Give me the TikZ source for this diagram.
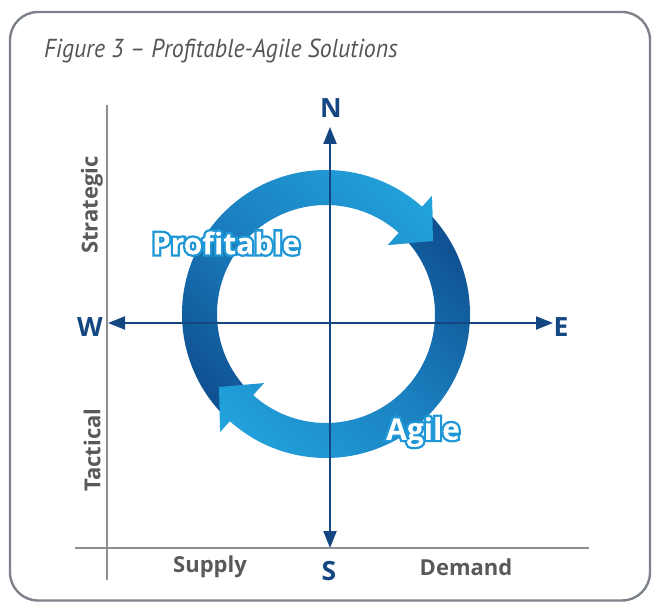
\documentclass[tikz,border=0pt]{standalone}
\usepackage{fontspec}
\setmainfont{Open Sans}
\newfontfamily\captionfont{PT Sans}
\usetikzlibrary{arrows.meta,calc}

\definecolor{ringdark}{RGB}{13,74,139}
\definecolor{ringmid}{RGB}{27,128,192}
\definecolor{ringlight}{RGB}{34,164,220}
\definecolor{axisblue}{RGB}{20,70,130}
\definecolor{axisgray}{RGB}{140,142,146}
\definecolor{framegray}{RGB}{125,130,138}
\definecolor{labelgray}{RGB}{88,89,91}
\definecolor{titlegray}{RGB}{85,85,85}

% White lettering with a blue edge: the glyphs are filled, stroked in blue
% and added to the clip (render mode 6); a white fill inside that clip then
% restores the full glyph body, so only the outer half of the stroke stays.
\makeatletter
\newcommand{\glowtext}[1]{%
  \pgfsys@beginscope
  \special{pdf:literal direct 6 Tr 4.6 w 0.12 0.59 0.84 RG}#1%
  \special{pdf:literal 0 Tr 1 g -600 -600 1200 1200 re f}%
  \pgfsys@endscope}
\makeatother

\begin{document}
\begin{tikzpicture}[x=1pt,y=1pt,
  compass/.style={font=\fontsize{26.5}{26.5}\selectfont\bfseries, text=axisblue, inner sep=0pt},
  axislabel/.style={font=\fontsize{22}{22}\selectfont\bfseries, text=labelgray, inner sep=0pt},
  ringlabel/.style={font=\fontsize{30}{30}\selectfont\bfseries, text=white, inner sep=0pt},
  compassline/.style={draw=axisblue, line width=2.2pt,
    {Triangle[length=17pt,width=13pt]}-{Triangle[length=17pt,width=13pt]}},
  gridline/.style={draw=axisgray, line width=2.6pt},
  shadeone/.style={top color=ringlight, bottom color=ringdark, middle color=ringmid, shading angle=-45},
  shadetwo/.style={top color=ringdark, bottom color=ringlight, middle color=ringmid, shading angle=-45},
  % clockwise arrow from the lower left, over the top, to the upper right
  arrowone/.style={insert path={
    ($(c)+(225:144)$) arc[start angle=225, end angle=48.1, radius=144]
    -- ($(c)+(48.1:158.6)$) -- ($(c)+(34.3:129.5)$) -- ($(c)+(48.1:92.8)$)
    -- ($(c)+(48.1:109)$) arc[start angle=48.1, end angle=225, radius=109] -- cycle}},
  headone/.style={insert path={
    ($(c)+(48.1:158.6)$) -- ($(c)+(34.3:129.5)$) -- ($(c)+(48.1:92.8)$) -- cycle}},
  % clockwise arrow from the upper right, under the bottom, to the lower left
  arrowtwo/.style={insert path={
    ($(c)+(45:144)$) arc[start angle=45, end angle=-131.9, radius=144]
    -- ($(c)+(228.1:158.6)$) -- ($(c)+(214.3:129.5)$) -- ($(c)+(228.1:92.8)$)
    -- ($(c)+(-131.9:109)$) arc[start angle=-131.9, end angle=45, radius=109] -- cycle}},
]
\useasboundingbox (0,0) rectangle (652,602);

% outer frame
\draw[framegray, line width=2.4pt, rounded corners=28pt] (10,1.5) rectangle (650,590);

% caption
\node[anchor=base west, font=\captionfont\fontsize{26}{26}\selectfont\itshape, text=titlegray, inner sep=0pt]
  (title) at (44,544) {\scalebox{0.915}[1]{Figure 3 – Profitable-Agile Solutions}};

% grey quadrant axes
\coordinate (gtop) at (107,497);
\coordinate (gbot) at (107,22);
\coordinate (gleft) at (75,54);
\coordinate (gright) at (589,54);
\draw[gridline] (gtop) -- (gbot);
\draw[gridline] (gleft) -- (gright);

% circular arrows
\coordinate (c) at (326,288);
\begin{scope}
  \clip[arrowone];
  \shade[shadeone] (166,128) rectangle (486,448);
\end{scope}
\begin{scope}
  \clip[arrowtwo];
  \shade[shadetwo] (166,128) rectangle (486,448);
\end{scope}
\begin{scope}
  \clip[headone];
  \shade[shadeone] (166,128) rectangle (486,448);
\end{scope}

% ring labels
\node[ringlabel] (profitable) at (226,359) {\glowtext{Profitable}};
\node[ringlabel] (agile) at (423,170) {\glowtext{Agile}};

% compass axes
\node[compass] (N) at (331,494) {N};
\node[compass] (S) at (329,31) {S};
\node[compass] (W) at (90,275) {W};
\node[compass] (E) at (561,275) {E};
\coordinate (ntip) at (330,475);
\coordinate (stip) at (330,54);
\coordinate (wtip) at (108,279);
\coordinate (etip) at (553,279);
\draw[compassline] (stip) -- (ntip);
\draw[compassline] (wtip) -- (etip);

% axis labels
\node[axislabel] (supply) at (210,35) {Supply};
\node[axislabel] (demand) at (466,35) {Demand};
\node[axislabel, rotate=90] (strategic) at (92,397) {Strategic};
\node[axislabel, rotate=90] (tactical) at (92,152) {Tactical};
\end{tikzpicture}
\end{document}
